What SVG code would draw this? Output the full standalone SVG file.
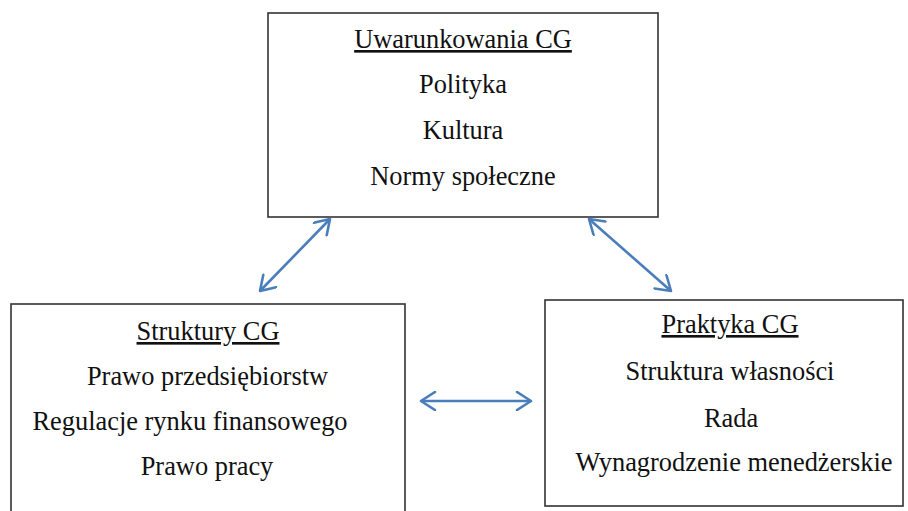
<svg xmlns="http://www.w3.org/2000/svg" width="908" height="511" viewBox="0 0 908 511">
<style>
.box{fill:#fff;stroke:#333;stroke-width:1.6}
.t{font-family:'Liberation Serif','Times New Roman',serif;font-size:26.4px;fill:#111;text-anchor:middle}
.u{text-decoration:underline}
.conn line{stroke:#4a7ebb;stroke-width:2.6;fill:none}
</style>
<defs>
<marker id="ah" markerUnits="userSpaceOnUse" viewBox="-16 -10 18 20" refX="0" refY="0" markerWidth="18" markerHeight="20" orient="auto-start-reverse">
<path d="M-14,-9 L0,0 L-14,9" fill="none" stroke="#4a7ebb" stroke-width="2.6" stroke-linecap="round" stroke-linejoin="round"/>
</marker>
</defs>
<rect width="908" height="511" fill="#fff"/>
<g id="uwarunkowania" class="t">
<rect class="box" x="268" y="13" width="390" height="204"/>
<text class="u" x="463" y="48">Uwarunkowania CG</text>
<text x="463" y="93">Polityka</text>
<text x="463" y="139">Kultura</text>
<text x="463" y="185">Normy społeczne</text>
</g>
<g id="struktury" class="t">
<rect class="box" x="11" y="304" width="394" height="210"/>
<text class="u" x="208" y="340">Struktury CG</text>
<text x="207.5" y="385">Prawo przedsiębiorstw</text>
<text x="190" y="430">Regulacje rynku finansowego</text>
<text x="207" y="475">Prawo pracy</text>
</g>
<g id="praktyka" class="t">
<rect class="box" x="545" y="300" width="358" height="206"/>
<text class="u" x="730" y="333">Praktyka CG</text>
<text x="730" y="380">Struktura własności</text>
<text x="731" y="427">Rada</text>
<text x="734" y="471">Wynagrodzenie menedżerskie</text>
</g>
<g class="conn" id="connectors">
<line x1="330" y1="219" x2="260" y2="291" marker-start="url(#ah)" marker-end="url(#ah)"/>
<line x1="589" y1="219" x2="671" y2="291" marker-start="url(#ah)" marker-end="url(#ah)"/>
<line x1="421" y1="401" x2="531" y2="401" marker-start="url(#ah)" marker-end="url(#ah)"/>
</g>
</svg>
